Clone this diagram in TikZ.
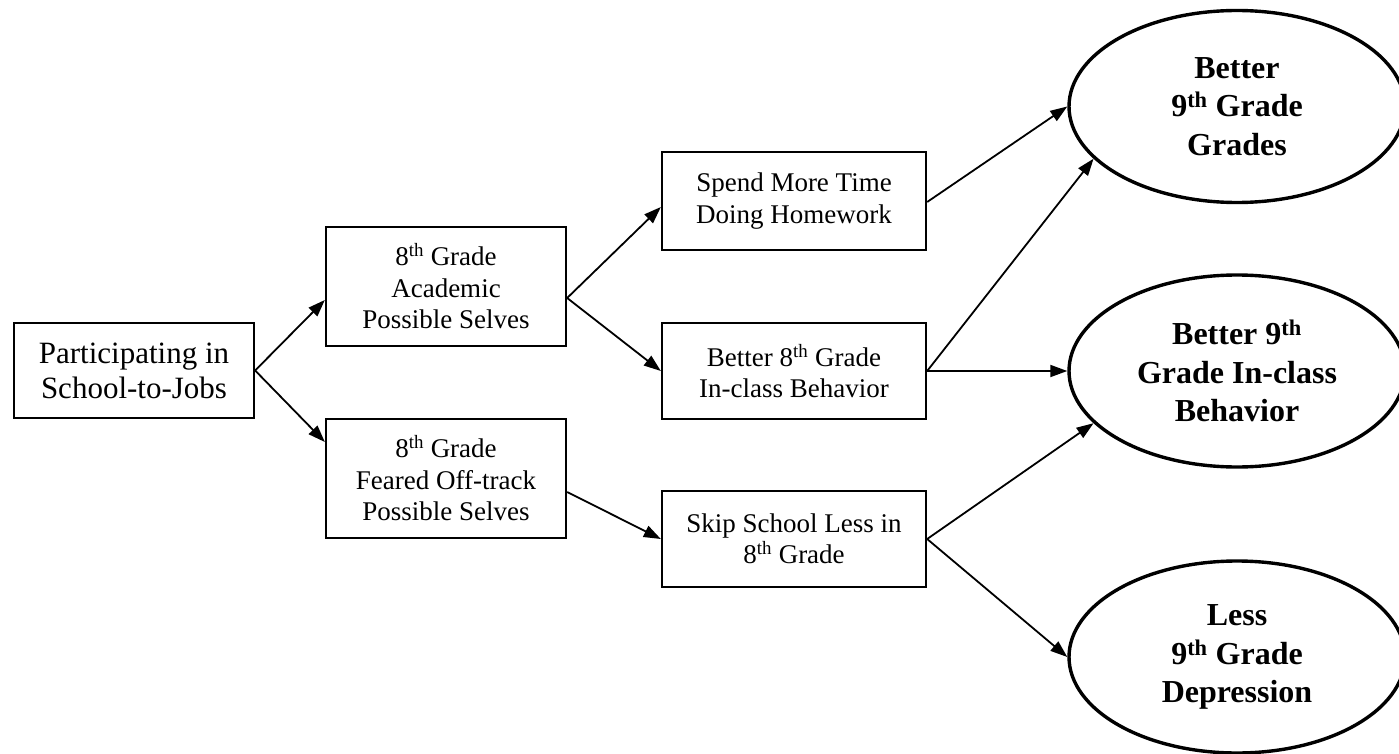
\documentclass[tikz,border=0pt]{standalone}
\usepackage{fontspec}
\setmainfont{Liberation Serif}
\usetikzlibrary{arrows.meta,shapes.geometric}
\begin{document}
\begin{tikzpicture}[x=1pt,y=-1pt,
  stbox/.style={draw,line width=2.3pt,rectangle,inner sep=0pt,align=center,font=\fontsize{27}{31.5}\selectfont},
  outcome/.style={draw,line width=3.4pt,ellipse,inner sep=0pt,minimum width=336pt,minimum height=192pt,align=center,font=\fontsize{32}{38.5}\selectfont\bfseries},
  conn/.style={line width=1.8pt,-{Triangle[length=17pt,width=12pt]}}]
\useasboundingbox (0,0) rectangle (1399,754);
\node[stbox,font=\fontsize{31}{35}\selectfont,minimum width=240pt,minimum height=95pt] (start) at (134,370.5) {Participating in\\School-to-Jobs};
\node[stbox,minimum width=240pt,minimum height=119pt] (acad) at (446,286.5) {8\textsuperscript{th} Grade\\Academic\\Possible Selves};
\node[stbox,minimum width=240pt,minimum height=119pt] (feared) at (446,478.5) {8\textsuperscript{th} Grade\\Feared Off-track\\Possible Selves};
\node[stbox,minimum width=264pt,minimum height=98pt] (spend) at (794,201) {Spend More Time\\Doing Homework};
\node[stbox,minimum width=264pt,minimum height=96pt] (behav) at (794,371) {Better 8\textsuperscript{th} Grade\\In-class Behavior};
\node[stbox,minimum width=264pt,minimum height=96pt] (skip) at (794,539) {Skip School Less in\\8\textsuperscript{th} Grade};
\node[outcome] (top) at (1237,106.5) {Better\\9\textsuperscript{th} Grade\\Grades};
\node[outcome] (mid) at (1237,371) {Better 9\textsuperscript{th}\\Grade In-class\\Behavior};
\node[outcome] (bot) at (1237,657) {Less\\9\textsuperscript{th} Grade\\Depression};
\draw[conn] (start.east) -- ([yshift=-13.5pt]acad.west);
\draw[conn] (start.east) -- ([yshift=36.5pt]feared.west);
\draw[conn] ([yshift=-11.5pt]acad.east) -- ([yshift=-6pt]spend.west);
\draw[conn] ([yshift=-11.5pt]acad.east) -- (behav.west);
\draw[conn] ([yshift=-13.5pt]feared.east) -- (skip.west);
\draw[conn] ([yshift=-1pt]spend.east) -- (top.west);
\draw[conn] (behav.east) -- (top.200);
\draw[conn] (behav.east) -- (mid.west);
\draw[conn] (skip.east) -- (mid.200);
\draw[conn] (skip.east) -- (bot.west);
\end{tikzpicture}
\end{document}
